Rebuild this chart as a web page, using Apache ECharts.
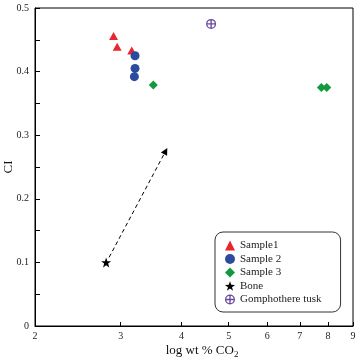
<!DOCTYPE html>
<html>
<head>
<meta charset="utf-8">
<script src="https://cdn.jsdelivr.net/npm/echarts@6/dist/echarts.min.js"></script>
<style>html,body{margin:0;padding:0;background:#fff}#c{width:361px;height:362px}</style>
</head>
<body>
<div id="c"></div>
<script>
// ---- data ----
var xTickValues = [2, 3, 4, 5, 6, 7, 8, 9];
var yTickLabels = [0, 0.1, 0.2, 0.3, 0.4, 0.5];
var yTickMarks = [0, 0.05, 0.1, 0.15, 0.2, 0.25, 0.3, 0.35, 0.4, 0.45, 0.5];

var sample1X = [2.90, 2.95, 3.16];
var sample1Y = [0.456, 0.439, 0.433];
var sample2X = [3.21, 3.21, 3.20];
var sample2Y = [0.425, 0.405, 0.392];
var sample3X = [3.50, 7.75, 7.95];
var sample3Y = [0.379, 0.375, 0.375];
var boneX = [2.80];
var boneY = [0.100];
var tuskX = [4.60];
var tuskY = [0.475];
var arrowFrom = [2.84, 0.108];
var arrowTo = [3.71, 0.275];

var seriesNames = ['Sample1', 'Sample 2', 'Sample 3', 'Bone', 'Gomphothere tusk'];

function pts(xs, ys) { return xs.map(function (x, i) { return [x, ys[i]]; }); }

var starPath = 'path://M10,0 L12.35,6.76 L19.51,6.91 L13.8,11.24 L15.88,18.09 L10,14 L4.12,18.09 L6.2,11.24 L0.49,6.91 L7.65,6.76 Z';
var tuskPath = 'path://M0,10 A10,10 0 1,1 20,10 A10,10 0 1,1 0,10 Z M2.6,10 A7.4,7.4 0 1,0 17.4,10 A7.4,7.4 0 1,0 2.6,10 Z M8.6,2 L11.4,2 L11.4,18 L8.6,18 Z M2,8.6 L18,8.6 L18,11.4 L2,11.4 Z';

var FONT = 'Liberation Serif';
var chart = echarts.init(document.getElementById('c'), null, { renderer: 'canvas' });
chart.setOption({
  animation: false,
  backgroundColor: '#fff',
  textStyle: { fontFamily: FONT },
  grid: { left: 35, top: 8, right: 8, bottom: 36, show: true, borderColor: '#000', borderWidth: 1,
    containLabel: false, outerBoundsMode: 'none' },
  xAxis: {
    type: 'log', logBase: 10, min: 2, max: 9,
    name: 'log wt % CO{sub|2}', nameLocation: 'middle', nameGap: 17, nameMoveOverlap: false,
    nameTextStyle: { fontFamily: FONT, fontSize: 13, color: '#111', lineHeight: 16, padding: [0, 0, 0, 16],
      rich: { sub: { fontFamily: FONT, fontSize: 9, verticalAlign: 'bottom', lineHeight: 8, color: '#111' } } },
    axisLine: { show: true, lineStyle: { color: '#000', width: 1 } },
    axisTick: { show: true, inside: true, length: 4, customValues: xTickValues, lineStyle: { color: '#000' } },
    axisLabel: { customValues: xTickValues, fontFamily: FONT, fontSize: 10, color: '#222', margin: 5,
      formatter: function (v) { return String(Math.round(v)); } },
    splitLine: { show: false }, minorTick: { show: false }, minorSplitLine: { show: false }
  },
  yAxis: {
    type: 'value', min: 0, max: 0.5,
    name: 'CI', nameLocation: 'middle', nameGap: 20, nameMoveOverlap: false,
    nameTextStyle: { fontFamily: FONT, fontSize: 13, color: '#111' },
    axisLine: { show: true, lineStyle: { color: '#000', width: 1 } },
    axisTick: { show: true, inside: true, length: 5, customValues: yTickMarks, lineStyle: { color: '#000' } },
    axisLabel: { customValues: yTickLabels, fontFamily: FONT, fontSize: 10, color: '#222', margin: 6,
      formatter: function (v) { return v === 0 ? '0' : v.toFixed(1); } },
    splitLine: { show: false }
  },
  legend: {
    orient: 'vertical', left: 215, top: 232,
    data: seriesNames,
    itemWidth: 10, itemHeight: 10, itemGap: 2.5, itemTextGap: 7,
    padding: [8, 19, 7, 10],
    borderColor: '#333', borderWidth: 1, borderRadius: 8,
    backgroundColor: '#fff',
    textStyle: { fontFamily: FONT, fontSize: 11, color: '#222' }
  },
  series: [
    { name: 'arrow', type: 'scatter', data: [], silent: true,
      markLine: { silent: true, animation: false, symbol: ['none', 'triangle'], symbolSize: [0, 7],
        label: { show: false },
        lineStyle: { color: '#000', width: 1, type: [4, 3] },
        itemStyle: { color: '#000' },
        data: [[{ coord: arrowFrom, symbol: 'none' }, { coord: arrowTo, symbol: 'triangle', symbolSize: 7 }]] } },
    { name: 'Sample1', type: 'scatter', symbol: 'triangle', symbolSize: [9, 8], itemStyle: { color: '#e8262b', opacity: 1 }, data: pts(sample1X, sample1Y) },
    { name: 'Sample 2', type: 'scatter', symbol: 'circle', symbolSize: 9, itemStyle: { color: '#2b4c9e', opacity: 1 }, data: pts(sample2X, sample2Y) },
    { name: 'Sample 3', type: 'scatter', symbol: 'diamond', symbolSize: 9, itemStyle: { color: '#129a3e', opacity: 1 }, data: pts(sample3X, sample3Y) },
    { name: 'Bone', type: 'scatter', symbol: starPath, symbolSize: 10, itemStyle: { color: '#000', opacity: 1 }, data: pts(boneX, boneY) },
    { name: 'Gomphothere tusk', type: 'scatter', symbol: tuskPath, symbolSize: 10, itemStyle: { color: '#6b4a9f', opacity: 1 }, data: pts(tuskX, tuskY) }
  ]
});
</script>
</body>
</html>
